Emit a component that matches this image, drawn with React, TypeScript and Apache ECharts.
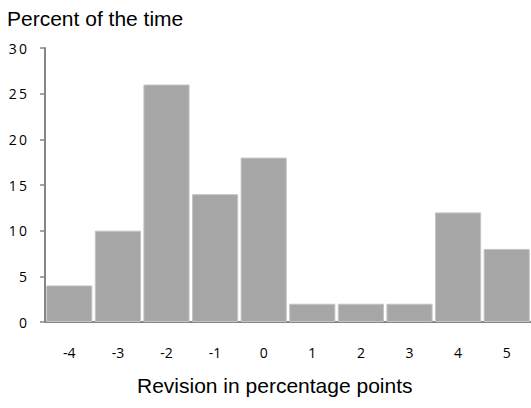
import React, { useEffect, useRef } from "react";
import * as echarts from "echarts";

const categories = ["-4", "-3", "-2", "-1", "0", "1", "2", "3", "4", "5"];
const values = [4, 10, 26, 14, 18, 2, 2, 2, 12, 8];
const yTicks = [0, 5, 10, 15, 20, 25, 30];
const titleText = "Percent of the time";
const xTitle = "Revision in percentage points";

const FONT = "'Liberation Sans', Arial, sans-serif";
const TICKFONT = "'Open Sans', 'Noto Sans', sans-serif";

export default function App() {
  const ref = useRef<HTMLDivElement>(null);
  useEffect(() => {
    const chart = echarts.init(ref.current!, null, { renderer: "svg" });
    chart.setOption({
      animation: false,
      backgroundColor: "#ffffff",
      grid: { left: 45, right: 0, top: 48, bottom: 86 },
      graphic: [
        {
          type: "text",
          left: 7,
          top: 8,
          style: { text: titleText, fontFamily: FONT, fontSize: 21, fill: "#000" },
        },
        {
          type: "text",
          left: 137,
          top: 375,
          style: { text: xTitle, fontFamily: FONT, fontSize: 21, fill: "#000" },
        },
      ],
      xAxis: {
        type: "category",
        data: categories,
        axisLine: { lineStyle: { color: "#868686", width: 2 } },
        axisTick: { show: false },
        axisLabel: { fontFamily: TICKFONT, fontSize: 14, color: "#000", margin: 23 },
      },
      yAxis: {
        type: "value",
        min: yTicks[0],
        max: yTicks[yTicks.length - 1],
        interval: 5,
        axisLine: { show: true, lineStyle: { color: "#868686", width: 2 } },
        axisTick: { show: true, length: 5, lineStyle: { color: "#868686", width: 1.5 } },
        splitLine: { show: false },
        axisLabel: {
          fontFamily: TICKFONT,
          fontSize: 14,
          color: "#000",
          margin: 18,
          formatter: (v: number) => String(v).split("").join("\u2009"),
        },
      },
      series: [
        {
          type: "bar",
          data: values,
          barCategoryGap: "5%",
          itemStyle: { color: "#a6a6a6", borderColor: "#c4c4c4", borderWidth: 1 },
        },
      ],
    });
    return () => chart.dispose();
  }, []);
  return (
    <div
      ref={ref}
      style={{ position: "absolute", left: 0, top: 0, width: 531, height: 408 }}
    />
  );
}
